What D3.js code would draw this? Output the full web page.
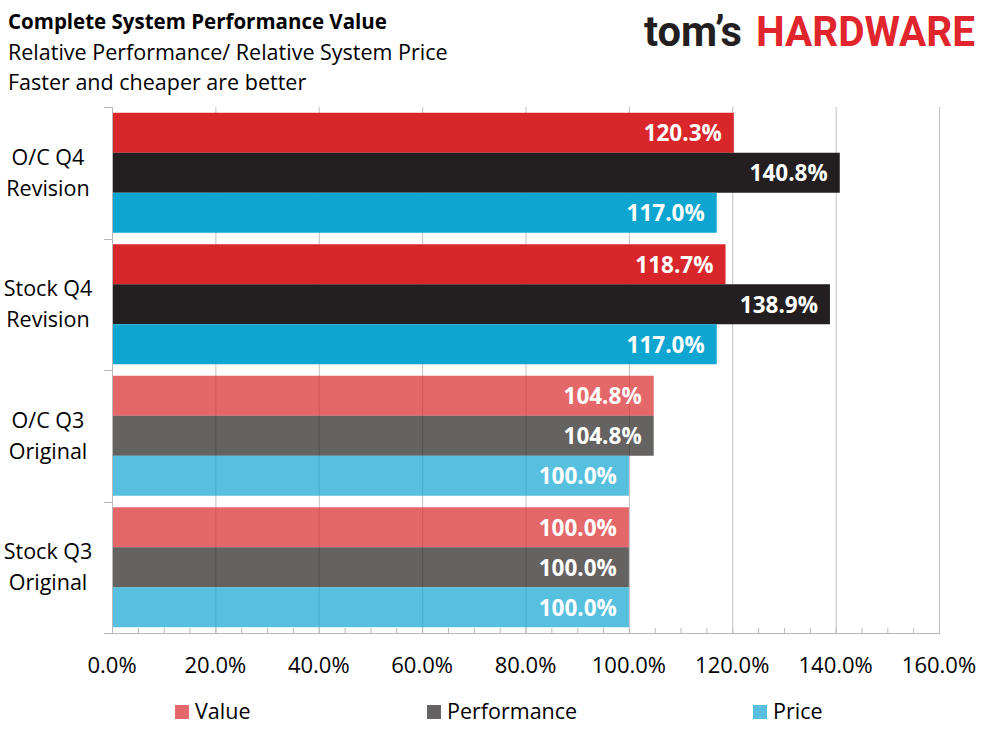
<!DOCTYPE html>
<html><head><meta charset="utf-8">
<script src="https://cdn.jsdelivr.net/npm/d3@7"></script>
<style>html,body{margin:0;padding:0;background:#fff;} svg{display:block;}</style>
</head><body>
<svg id="chart" width="989" height="742"></svg>
<script>
const categories = ["O/C Q4 Revision", "Stock Q4 Revision", "O/C Q3 Original", "Stock Q3 Original"];
const categoryLines = [["O/C Q4", "Revision"], ["Stock Q4", "Revision"], ["O/C Q3", "Original"], ["Stock Q3", "Original"]];
const seriesNames = ["Value", "Performance", "Price"];
const valueSeries = [120.3, 118.7, 104.8, 100.0];
const performanceSeries = [140.8, 138.9, 104.8, 100.0];
const priceSeries = [117.0, 117.0, 100.0, 100.0];
const xTicks = [0, 20, 40, 60, 80, 100, 120, 140, 160];
const minorTicks = d3.range(0, 161, 5);
const seriesColors = ["#d9262b", "#231f20", "#0ea5d0"];
const groupOpacity = [1, 1, 0.7, 0.7];

const seriesData = [valueSeries, performanceSeries, priceSeries];
const svg = d3.select("#chart");
const font = "'Open Sans', sans-serif";

const x = d3.scaleLinear().domain([0, 160]).range([112, 939]);
const y0 = d3.scaleBand().domain(categories).range([107, 633]);
const y1 = d3.scaleBand().domain(seriesNames).range([0, y0.bandwidth()]).paddingInner(0).paddingOuter(0.14375);

// Titles
svg.append("text").attr("x", 8).attr("y", 29).attr("font-family", font).attr("font-weight", 700)
  .attr("font-size", 20.5).attr("fill", "#000").text("Complete System Performance Value");
svg.append("text").attr("x", 8).attr("y", 60).attr("font-family", font)
  .attr("font-size", 21.5).attr("fill", "#000").text("Relative Performance/ Relative System Price");
svg.append("text").attr("x", 8).attr("y", 90).attr("font-family", font)
  .attr("font-size", 21.5).attr("fill", "#000").text("Faster and cheaper are better");

// Logo
svg.append("text").attr("x", 644).attr("y", 46).attr("font-family", "Roboto, sans-serif").attr("font-weight", 700)
  .attr("font-size", 42).attr("fill", "#231f20").attr("textLength", 98).attr("lengthAdjust", "spacingAndGlyphs").text("tom’s");
svg.append("text").attr("x", 756).attr("y", 46).attr("font-family", "Roboto, sans-serif").attr("font-weight", 700)
  .attr("font-size", 43).attr("fill", "#e0252c").attr("textLength", 219).attr("lengthAdjust", "spacingAndGlyphs").text("HARDWARE");

// Gridlines
svg.append("g").selectAll("line").data(xTicks.slice(1)).join("line")
  .attr("x1", d => x(d) + 0.5).attr("x2", d => x(d) + 0.5)
  .attr("y1", 107).attr("y2", 633).attr("stroke", "#c0c0c0").attr("stroke-width", 1);

// Bars
const groups = svg.append("g").selectAll("g").data(categories).join("g")
  .attr("transform", d => `translate(0,${y0(d)})`);
groups.each(function(cat, ci) {
  const g = d3.select(this);
  seriesNames.forEach((s, si) => {
    const v = seriesData[si][ci];
    g.append("rect").attr("x", x(0)).attr("y", y1(s)).attr("width", x(v) - x(0)).attr("height", y1.bandwidth())
      .attr("fill", seriesColors[si]).attr("fill-opacity", groupOpacity[ci]);
    g.append("text").attr("x", x(v) - 12).attr("y", y1(s) + y1.bandwidth() / 2 + 8.5)
      .attr("text-anchor", "end").attr("font-family", font).attr("font-weight", 700)
      .attr("font-size", 22.5).attr("fill", "#fff").text(v.toFixed(1) + "%");
  });
});

// Left axis
const axisColor = "#b8b8b8";
svg.append("line").attr("x1", 112.5).attr("x2", 112.5).attr("y1", 107).attr("y2", 634).attr("stroke", axisColor);
const boundaries = categories.map(c => y0(c)).concat([y0.range()[1]]);
svg.append("g").selectAll("line").data(boundaries).join("line")
  .attr("x1", 104).attr("x2", 112).attr("y1", d => Math.round(d) + 0.5).attr("y2", d => Math.round(d) + 0.5)
  .attr("stroke", axisColor);

// Category labels
categories.forEach((c, i) => {
  const cy = y0(c) + y0.bandwidth() / 2;
  const t = svg.append("text").attr("text-anchor", "middle").attr("font-family", font)
    .attr("font-size", 21.5).attr("fill", "#000");
  categoryLines[i].forEach((ln, li) => {
    t.append("tspan").attr("x", 48).attr("y", cy - 8 + li * 31).text(ln);
  });
});

// Bottom axis
svg.append("line").attr("x1", 104).attr("x2", 940).attr("y1", 633.5).attr("y2", 633.5).attr("stroke", axisColor);
svg.append("g").selectAll("line").data(minorTicks).join("line")
  .attr("x1", d => x(d) + 0.5).attr("x2", d => x(d) + 0.5).attr("y1", 628).attr("y2", 633)
  .attr("stroke", axisColor);
svg.append("g").selectAll("text").data(xTicks).join("text")
  .attr("x", d => x(d)).attr("y", 673).attr("text-anchor", "middle").attr("font-family", font)
  .attr("font-size", 22).attr("fill", "#000").text(d => d.toFixed(1) + "%");

// Legend
const legendX = [175, 427, 753];
const legendColors = ["#e4676b", "#656263", "#56c0de"];
seriesNames.forEach((s, i) => {
  svg.append("rect").attr("x", legendX[i]).attr("y", 705).attr("width", 14).attr("height", 14).attr("fill", legendColors[i]);
  svg.append("text").attr("x", legendX[i] + 20).attr("y", 719).attr("font-family", font)
    .attr("font-size", 21.5).attr("fill", "#000").text(s);
});
</script>
</body></html>
